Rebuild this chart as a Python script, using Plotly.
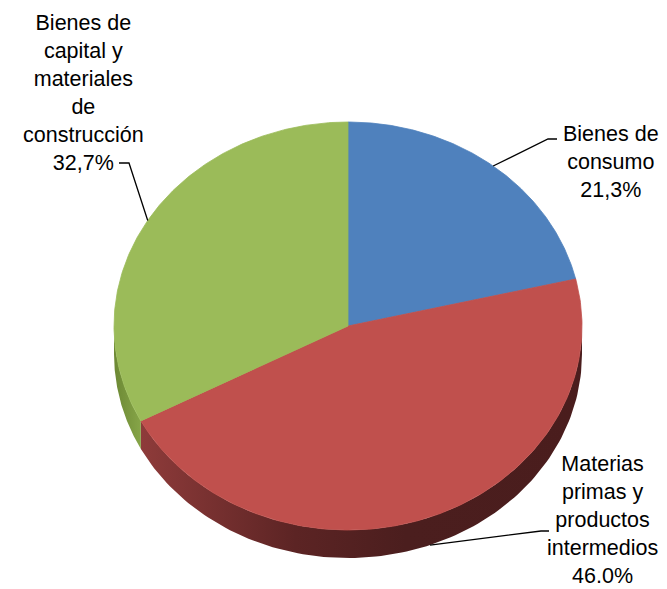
import numpy as np
import plotly.graph_objects as go

# ---- data ----
categories = ["Bienes de consumo",
              "Materias primas y productos intermedios",
              "Bienes de capital y materiales de construcción"]
values = [21.3, 46.0, 32.7]
pct_labels = ["21,3%", "46.0%", "32,7%"]
label_lines = ["Bienes de<br>consumo",
               "Materias<br>primas y<br>productos<br>intermedios",
               "Bienes de<br>capital y<br>materiales<br>de<br>construcción"]

# ---- style ----
top_colors = ["#4f81bd", "#c0504d", "#9bbb59"]
side_scales = [
    [[0, "#2c4d74"], [1, "#2c4d74"]],
    [[0, "#8e3b3a"], [0.35, "#5c2424"], [0.6, "#4b1e1e"], [1, "#4a1d1d"]],
    [[0, "#6c8834"], [1, "#86a548"]],
]
W, H = 667, 589
cx, cy, rx, ry, depth = 348, 326, 234, 204, 28
FONT = dict(family="Liberation Sans, Arial, sans-serif", size=21.5, color="#000000")


def ell(theta_deg, dy=0.0):
    t = np.radians(theta_deg)
    return cx + rx * np.sin(t), cy - ry * np.cos(t) + dy


total = float(sum(values))
bounds = np.concatenate([[0.0], np.cumsum(values) / total * 360.0])

fig = go.Figure()

# side walls (front half only)
for i in range(len(values)):
    a, b = max(bounds[i], 90.0), min(bounds[i + 1], 270.0)
    if a >= b:
        continue
    th = np.linspace(a, b, 120)
    xt, yt = ell(th)
    xb, yb = ell(th[::-1], depth)
    xs = np.concatenate([xt, xb, xt[:1]])
    ys = np.concatenate([yt, yb, yt[:1]])
    fig.add_trace(go.Scatter(
        x=xs, y=ys, mode="lines", fill="toself",
        fillgradient=dict(type="horizontal", colorscale=side_scales[i]),
        line=dict(width=0), hoverinfo="skip", showlegend=False))

# top faces
for i in range(len(values)):
    th = np.linspace(bounds[i], bounds[i + 1], 200)
    xt, yt = ell(th)
    xs = np.concatenate([[cx], xt, [cx]])
    ys = np.concatenate([[cy], yt, [cy]])
    fig.add_trace(go.Scatter(
        x=xs, y=ys, mode="lines", fill="toself", fillcolor=top_colors[i],
        line=dict(width=0.8, color=top_colors[i]),
        name=categories[i], hoverinfo="name", showlegend=False))

# leader lines and labels
mids = (bounds[:-1] + bounds[1:]) / 2
anchor_dy = [0, depth, 0]
elbows = [[(548, 139), (557, 139)],
          [(541, 531), (549, 531)],
          [(129, 163), (119, 163)]]
text_pos = [(611, 162), (602, 520), (83, 93)]

for i in range(len(values)):
    ax_, ay_ = ell(mids[i], anchor_dy[i])
    xs = [ax_] + [p[0] for p in elbows[i]]
    ys = [ay_] + [p[1] for p in elbows[i]]
    fig.add_trace(go.Scatter(x=xs, y=ys, mode="lines",
                             line=dict(color="#000000", width=1.3),
                             hoverinfo="skip", showlegend=False))
    fig.add_annotation(x=text_pos[i][0], y=text_pos[i][1], xref="x", yref="y",
                       text=label_lines[i] + "<br>" + pct_labels[i],
                       showarrow=False, align="center",
                       xanchor="center", yanchor="middle", font=FONT)

fig.update_layout(
    width=W, height=H, autosize=False,
    margin=dict(l=0, r=0, t=0, b=0),
    paper_bgcolor="#ffffff", plot_bgcolor="#ffffff",
    xaxis=dict(range=[0, W], visible=False, fixedrange=True),
    yaxis=dict(range=[H, 0], visible=False, fixedrange=True),
    showlegend=False,
)

fig.write_html("out.html",
               config={"displayModeBar": False},
               post_script="document.body.style.margin='0px';"
                           "document.body.style.padding='0px';"
                           "document.body.style.overflow='hidden';")
